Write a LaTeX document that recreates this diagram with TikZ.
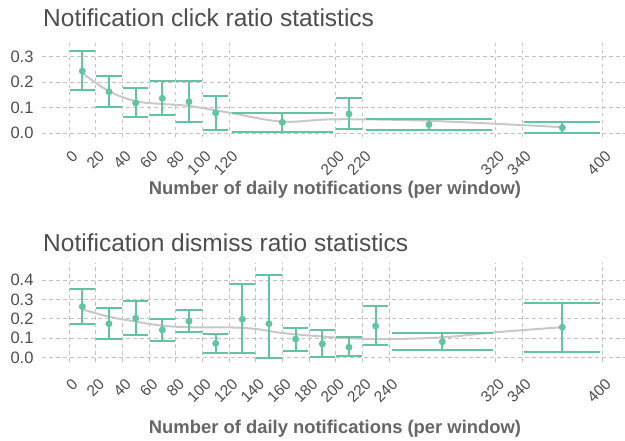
\documentclass[tikz,border=0pt]{standalone}
\usepackage{fontspec}
\setmainfont{Liberation Sans}
\definecolor{setteal}{HTML}{66C2A5}
\definecolor{gridgray}{HTML}{C2C2C2}
\definecolor{trendgray}{HTML}{C8C8C8}
\definecolor{textgray}{HTML}{4D4D4D}
\definecolor{labelgray}{HTML}{666666}
\tikzset{
  gridline/.style={gridgray, line width=0.8pt, dash pattern=on 3.5pt off 3.5pt},
  errbar/.style={setteal, line width=2pt},
  capbar/.style={rectangle, fill=setteal, draw=none, inner sep=0pt, minimum height=2pt},
  meandot/.style={circle, fill=setteal, inner sep=0pt, minimum size=7pt},
  trend/.style={trendgray, line width=2pt},
  ytick/.style={anchor=east, inner sep=0pt, text=textgray, font=\fontsize{16.5}{17}\selectfont},
  xtick/.style={anchor=north east, rotate=45, inner sep=0pt, text=textgray, font=\fontsize{15.5}{16}\selectfont},
  paneltitle/.style={anchor=base west, inner sep=0pt, text=textgray, font=\fontsize{24.5}{26}\selectfont},
  axistitle/.style={anchor=base, inner sep=0pt, text=labelgray, font=\bfseries\fontsize{18.4}{20}\selectfont}
}
\begin{document}
\begin{tikzpicture}[x=1pt, y=1pt]
  \useasboundingbox (0,0) rectangle (625,441);

  % Titles
  \node[paneltitle] (clicktitle) at (43,414.3) {Notification click ratio statistics};
  \node[axistitle] (clickaxis) at (335,246) {Number of daily notifications (per window)};
  \node[paneltitle] (dismisstitle) at (43,189.3) {Notification dismiss ratio statistics};
  \node[axistitle] (dismissaxis) at (335,7) {Number of daily notifications (per window)};

  % Click ratio panel
  \begin{scope}[shift={(69,307.7)}, x=1.3333pt, y=255pt]
    \foreach \t in {0,20,40,60,80,100,120,200,220,320,340,400} {
      \draw[gridline] (\t,-0.016) -- (\t,0.366);
      \node[xshift=2pt, yshift=-16.5pt, xtick] (cx\t) at (\t,0) {\t};
    }
    \foreach \v in {0.0,0.1,0.2,0.3} {
      \draw[gridline] (-20,\v) -- (420,\v);
      \node[ytick] (cy\v) at (-26.5,\v) {\v};
    }
    \draw[trend] plot[smooth, tension=0.6] coordinates {(10,0.236) (30,0.165) (50,0.126)
      (70,0.115) (90,0.107) (120,0.081) (160,0.046) (200,0.055) (270,0.049) (370,0.024)};
    \foreach \a/\b/\m/\lo/\hi [count=\i] in {0/20/0.244/0.169/0.323, 20/40/0.163/0.103/0.224,
        40/60/0.119/0.064/0.176, 60/80/0.137/0.072/0.205, 80/100/0.124/0.043/0.205,
        100/120/0.080/0.012/0.147, 120/200/0.043/0.004/0.080, 200/220/0.076/0.017/0.137,
        220/320/0.034/0.014/0.057, 340/400/0.022/0.0/0.044} {
      \pgfmathsetmacro\mid{(\a+\b)/2}
      \pgfmathsetmacro\capw{1.2667*(\b-\a)}
      \node[capbar, minimum width=\capw pt] (clo\i) at (\mid,\lo) {};
      \node[capbar, minimum width=\capw pt] (chi\i) at (\mid,\hi) {};
      \draw[errbar] (clo\i.center) -- (chi\i.center);
      \node[meandot] (click\i) at (\mid,\m) {};
    }
  \end{scope}

  % Dismiss ratio panel
  \begin{scope}[shift={(69,83.3)}, x=1.3333pt, y=194.2pt]
    \foreach \t in {0,20,40,60,80,100,120,140,160,180,200,220,240,320,340,400} {
      \draw[gridline] (\t,-0.021) -- (\t,0.487);
      \node[xshift=2pt, yshift=-19.8pt, xtick] (dx\t) at (\t,0) {\t};
    }
    \foreach \v in {0.0,0.1,0.2,0.3,0.4} {
      \draw[gridline] (-20,\v) -- (420,\v);
      \node[ytick] (dy\v) at (-26.5,\v) {\v};
    }
    \draw[trend] plot[smooth, tension=0.6] coordinates {(10,0.249) (30,0.211) (50,0.186)
      (70,0.165) (90,0.157) (120,0.156) (140,0.148) (160,0.127) (188,0.110) (210,0.100)
      (240,0.096) (280,0.105) (320,0.131) (370,0.157)};
    \foreach \a/\b/\m/\lo/\hi [count=\i] in {0/20/0.263/0.172/0.354, 20/40/0.175/0.096/0.258,
        40/60/0.203/0.117/0.292, 60/80/0.143/0.086/0.199, 80/100/0.188/0.131/0.244,
        100/120/0.074/0.024/0.124, 120/140/0.198/0.024/0.378, 140/160/0.175/0.0/0.425,
        160/180/0.096/0.035/0.155, 180/200/0.071/0.004/0.141, 200/220/0.054/0.009/0.105,
        220/240/0.163/0.064/0.268, 240/320/0.082/0.041/0.129, 340/400/0.157/0.029/0.280} {
      \pgfmathsetmacro\mid{(\a+\b)/2}
      \pgfmathsetmacro\capw{1.2667*(\b-\a)}
      \node[capbar, minimum width=\capw pt] (dlo\i) at (\mid,\lo) {};
      \node[capbar, minimum width=\capw pt] (dhi\i) at (\mid,\hi) {};
      \draw[errbar] (dlo\i.center) -- (dhi\i.center);
      \node[meandot] (dismiss\i) at (\mid,\m) {};
    }
  \end{scope}
\end{tikzpicture}
\end{document}
